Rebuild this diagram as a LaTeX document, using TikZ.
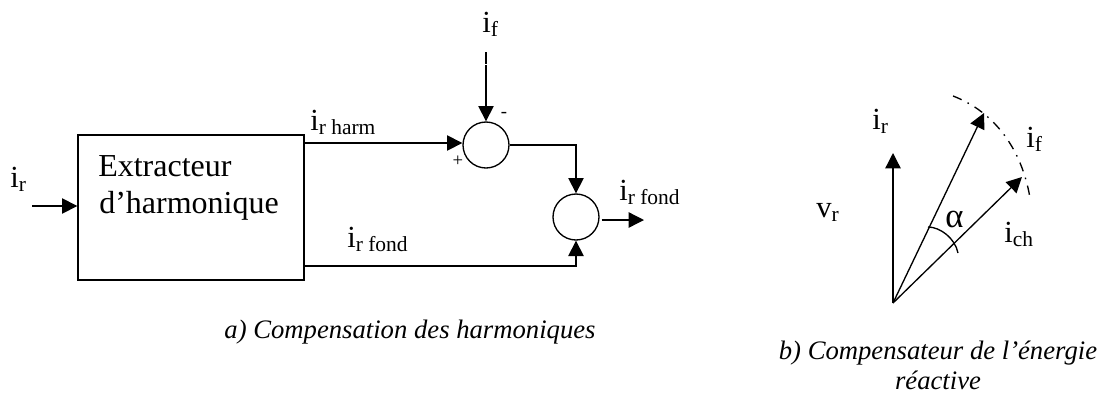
\documentclass[tikz,border=0pt]{standalone}
\usepackage{fontspec}
\setmainfont{Liberation Serif}
\usepackage{tikz}
\usetikzlibrary{positioning, calc, arrows.meta}

\begin{document}
\begin{tikzpicture}[
        x=0.75pt, y=-0.75pt,
        % Define block styles
        block/.style={draw, line width=1pt, rectangle, minimum width=169.5pt, minimum height=108.75pt, inner sep=0pt},
        sumnode/.style={draw, line width=1pt, circle, minimum size=34.5pt, inner sep=0pt},
        sig/.style={inner sep=0pt, anchor=base west, font=\fontsize{23}{25}\selectfont},
        boxtext/.style={inner sep=0pt, anchor=base west, font=\fontsize{24}{26}\selectfont},
        sign/.style={inner sep=0pt, font=\fontsize{14}{15}\selectfont},
        caption/.style={inner sep=0pt, align=center, font=\fontsize{20}{22.5}\selectfont\itshape},
        arrow/.style={draw, line width=1pt, -{Triangle[length=11.5pt, width=11.5pt]}},
        wire/.style={draw, line width=1pt}
    ]
    \useasboundingbox (0,0) rectangle (1104,394);

    % --- Nodes Placement ---
    \node[block] (ext) at (191,207.5) {};
    \node[boxtext] (ext_txt) at (98,176) {Extracteur};
    \node[boxtext] (ext_txt2) at (99,213) {d’harmonique};

    \node[sumnode] (sum1) at (486,145) {};
    \node[sumnode] (sum2) at (576,217) {};

    % free ends
    \coordinate (ir_in) at (32,206);
    \coordinate (if_in) at (486,52);
    \coordinate (out) at (644,220);
    \coordinate (harm_out) at (304,143);
    \coordinate (fond_out) at (304,266);

    % Labels of the left part
    \node[sig] (lbl_ir) at (10,187) {i\textsubscript{r}};
    \node[sig] (lbl_harm) at (310,130) {i\textsubscript{r harm}};
    \node[sig] (lbl_fond) at (347,247) {i\textsubscript{r fond}};
    \node[sig] (lbl_if) at (482,32) {i\textsubscript{f}};
    \node[sig] (lbl_out) at (619,200) {i\textsubscript{r fond}};
    \node[sign] (plus) at (458,161) {+};
    \node[sign] (minus) at (504,115) {-};
    \node[caption, anchor=base] (cap_a) at (410,338) {a) Compensation des harmoniques};

    % --- Connections / Arrows ---
    \draw[arrow] (ir_in) -- (ir_in -| ext.west);
    \draw[arrow, dash pattern=on 9pt off 1pt on 100pt off 0pt] (if_in) -- (sum1.north);
    \draw[arrow] (harm_out) -- (harm_out -| sum1.west);
    \draw[arrow] (sum1.east) -- (sum1.east -| sum2.north) -- (sum2.north);
    \draw[arrow] (fond_out) -- (fond_out -| sum2.south) -- (sum2.south);
    \draw[arrow] (sum2.east |- out) ++(2,0) -- (out);

    % Vectors
    \coordinate (orig) at (893,303);
    \coordinate (tip_r) at (893,153);
    \coordinate (tip_f) at (984,113);
    \coordinate (tip_ch) at (1022,177);
    \draw[arrow] (orig) -- (tip_r);
    \draw[arrow] (orig) -- (tip_f);
    \draw[arrow] (orig) -- (tip_ch);

    % Arcs
    \coordinate (arc_a) at (953,96);
    \coordinate (arc_b) at (1030,198);
    \draw[wire, dash pattern=on 7pt off 5pt on 1.2pt off 5pt] (arc_a) .. controls (995,112) and (1022,150) .. (arc_b);
    \coordinate (alpha_a) at (928,227);
    \coordinate (alpha_b) at (958,253);
    \draw[wire] (alpha_a) .. controls (940,227) and (955,238) .. (alpha_b);

    \node[sig] (lbl_ir2) at (872,129) {i\textsubscript{r}};
    \node[sig] (lbl_vr) at (816,217) {v\textsubscript{r}};
    \node[sig] (lbl_if2) at (1026,147) {i\textsubscript{f}};
    \node[sig] (lbl_ich) at (1004,242) {i\textsubscript{ch}};
    \node[sig, font=\fontsize{26}{28}\selectfont] (lbl_alpha) at (945,227) {α};
    \node[caption, anchor=base] (cap_b) at (938,389) {b) Compensateur de l’énergie\\réactive};
\end{tikzpicture}
\end{document}
